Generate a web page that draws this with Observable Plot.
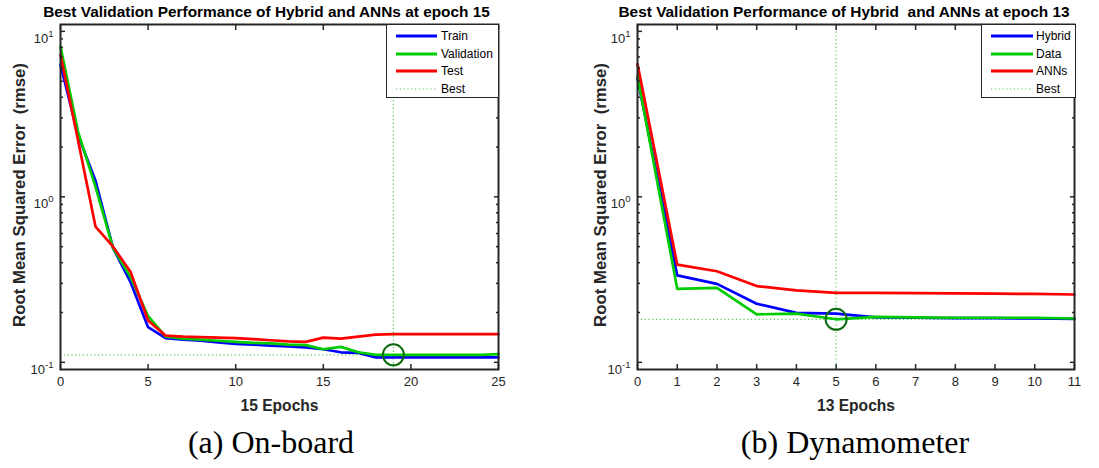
<!DOCTYPE html>
<html>
<head>
<meta charset="utf-8">
<script src="https://cdn.jsdelivr.net/npm/d3@7"></script>
<script src="https://cdn.jsdelivr.net/npm/@observablehq/plot@0.6"></script>
<style>
  body { margin: 0; background: #fff; }
  #wrap { position: relative; width: 1099px; height: 468px; overflow: hidden; background: #fff;
          font-family: "Liberation Sans", Arial, sans-serif; }
  .panel { position: absolute; top: 0; }
  .legend { position: absolute; top: 24px; border: 1px solid #262626; background: #fff; box-sizing: border-box;
            font-family: "Liberation Sans", Arial, sans-serif; font-size: 12px; color: #000; }
  .legend .row { position: absolute; left: 0; height: 16px; display: flex; align-items: center; white-space: nowrap; }
  .legend svg { display: block; }
  .caption { position: absolute; top: 422px; width: 400px; text-align: center;
             font-family: "Liberation Serif", "Times New Roman", serif; font-size: 32px; line-height: 40px; color: #000; }
</style>
</head>
<body>
<div id="wrap"></div>
<script>
// ---------- data: panel (a) On-board ----------
const epochsA = [0,1,2,3,4,5,6,7,8,9,10,11,12,13,14,15,16,17,18,19,20,21,22,23,24,25];
const trainA = [6.3,2.36,1.25,0.49,0.305,0.163,0.140,0.137,0.135,0.132,0.129,0.128,0.126,0.125,0.123,0.120,0.115,0.114,0.107,0.107,0.107,0.107,0.107,0.107,0.107,0.107];
const validA = [8.1,2.48,1.15,0.49,0.327,0.190,0.143,0.139,0.137,0.135,0.133,0.131,0.130,0.128,0.127,0.120,0.124,0.115,0.111,0.111,0.111,0.111,0.111,0.111,0.111,0.112];
const testA  = [7.2,2.2,0.66,0.50,0.351,0.179,0.145,0.143,0.142,0.141,0.140,0.138,0.136,0.134,0.133,0.141,0.139,0.143,0.147,0.148,0.148,0.148,0.148,0.148,0.148,0.148];
const namesA = ["Train", "Validation", "Test"];
const bestEpochA = 19, bestValueA = 0.111;
const xTicksA = [0,5,10,15,20,25];

// ---------- data: panel (b) Dynamometer ----------
const epochsB = [0,1,2,3,4,5,6,7,8,9,10,11];
const hybridB = [5.2,0.335,0.298,0.226,0.199,0.197,0.187,0.186,0.185,0.185,0.184,0.183];
const dataB   = [5.4,0.278,0.282,0.195,0.197,0.182,0.188,0.187,0.186,0.186,0.186,0.184];
const annB    = [6.34,0.389,0.355,0.289,0.272,0.263,0.263,0.262,0.261,0.260,0.259,0.257];
const namesB = ["Hybrid", "Data", "ANNs"];
const bestEpochB = 5, bestValueB = 0.182;
const xTicksB = [0,1,2,3,4,5,6,7,8,9,10,11];

const yMajor = [0.1, 1, 10];
const yMinor = [0.2,0.3,0.4,0.5,0.6,0.7,0.8,0.9,2,3,4,5,6,7,8,9];
const yDomain = [0.0905, 11];

const seriesColors = ["#0000ff", "#00cc00", "#ff0000"];
const bestColor = "#55c855";
const circleColor = "#0b6b0b";
const axisColor = "#262626";

const wrap = document.getElementById("wrap");

function makePanel(cfg) {
  const table = [];
  cfg.series.forEach((vals, si) => {
    vals.forEach((v, i) => table.push({epoch: cfg.epochs[i], value: v, series: cfg.names[si]}));
  });
  const xDomain = [cfg.epochs[0], cfg.epochs[cfg.epochs.length - 1]];
  const plot = Plot.plot({
    width: cfg.width,
    height: 420,
    marginLeft: cfg.marginLeft,
    marginRight: cfg.marginRight,
    marginTop: 24,
    marginBottom: 51,
    style: {fontFamily: '"Liberation Sans", Arial, sans-serif', fontSize: "13px", color: axisColor, background: "transparent", overflow: "visible"},
    x: {domain: xDomain, label: null},
    y: {type: "log", domain: yDomain, label: null},
    color: {domain: cfg.names, range: seriesColors},
    marks: [
      Plot.ruleY([cfg.bestValue], {stroke: bestColor, strokeWidth: 1.2, strokeDasharray: "1.2,2.6"}),
      Plot.ruleX([cfg.bestEpoch], {stroke: bestColor, strokeWidth: 1.2, strokeDasharray: "1.2,2.6"}),
      Plot.line(table, {x: "epoch", y: "value", z: "series", stroke: "series", strokeWidth: 2.7, strokeLinejoin: "round"}),
      Plot.dot([{epoch: cfg.bestEpoch, value: cfg.bestValue}], {x: "epoch", y: "value", r: 10.5, stroke: circleColor, strokeWidth: 2, fill: "none"}),
      Plot.frame({stroke: axisColor, strokeWidth: 2}),
      // inward tick marks, all four sides
      Plot.axisX(cfg.xTicks, {anchor: "bottom", tickSize: -5, fill: "none", stroke: axisColor, strokeWidth: 1.5, label: null}),
      Plot.axisX(cfg.xTicks, {anchor: "top", tickSize: -5, fill: "none", stroke: axisColor, strokeWidth: 1.5, label: null}),
      Plot.axisY(yMajor, {anchor: "left", tickSize: -5, fill: "none", stroke: axisColor, strokeWidth: 1.5, label: null}),
      Plot.axisY(yMajor, {anchor: "right", tickSize: -5, fill: "none", stroke: axisColor, strokeWidth: 1.5, label: null}),
      Plot.axisY(yMinor, {anchor: "left", tickSize: -3, fill: "none", stroke: axisColor, strokeWidth: 1.5, label: null}),
      Plot.axisY(yMinor, {anchor: "right", tickSize: -3, fill: "none", stroke: axisColor, strokeWidth: 1.5, label: null}),
      // tick labels
      Plot.axisX(cfg.xTicks, {anchor: "bottom", tickSize: 0, tickPadding: 7, fontSize: 13, fill: axisColor, label: null, tickFormat: d => String(d)}),
      Plot.axisY(yMajor, {anchor: "left", tickSize: 0, tickPadding: 7, fontSize: 13, fill: axisColor, label: null,
                          tickFormat: d => String(Math.round(Math.log10(d)))}),
      // titles and axis labels
      Plot.text([cfg.title], {frameAnchor: "top", dx: cfg.titleShift, dy: -12, fontWeight: "bold", fontSize: 15.4, fill: "#000", lineAnchor: "middle", textAnchor: "middle"}),
      Plot.text([cfg.xlabel], {frameAnchor: "bottom", dy: 36, fontWeight: "bold", fontSize: 15.6, fill: "#262626", lineAnchor: "middle", textAnchor: "middle"}),
      Plot.text([cfg.ylabel], {frameAnchor: "left", dx: -cfg.ylabelOffset, dy: -2, rotate: -90, fontWeight: "bold", fontSize: 16.8, fill: "#262626", lineAnchor: "middle", textAnchor: "middle"})
    ]
  });
  // superscript exponents on y tick labels
  plot.querySelectorAll('g[aria-label="y-axis tick label"] text').forEach(t => {
    const e = t.textContent;
    t.textContent = "10";
    t.setAttribute("dy", "0.55em");
    const ts = document.createElementNS("http://www.w3.org/2000/svg", "tspan");
    ts.setAttribute("dy", "-0.62em");
    ts.setAttribute("font-size", "9.5");
    ts.textContent = e;
    t.appendChild(ts);
  });
  plot.classList.add("panel");
  plot.style.left = cfg.left + "px";
  wrap.appendChild(plot);

  // legend
  const lg = document.createElement("div");
  lg.className = "legend";
  lg.style.left = cfg.legend.left + "px";
  lg.style.width = cfg.legend.width + "px";
  lg.style.height = "74px";
  const entries = cfg.names.map((n, i) => ({name: n, color: seriesColors[i], dotted: false})).concat([{name: "Best", color: bestColor, dotted: true}]);
  entries.forEach((en, i) => {
    const row = document.createElement("div");
    row.className = "row";
    row.style.top = (3 + i * 17.5) + "px";
    row.style.left = cfg.legend.lineLeft + "px";
    const sw = cfg.legend.lineWidth;
    row.innerHTML = `<svg width="${sw}" height="16"><line x1="0" x2="${sw}" y1="8" y2="8" stroke="${en.color}" stroke-width="${en.dotted ? 1.2 : 3}" ${en.dotted ? 'stroke-dasharray="1.2,2.6"' : ''}/></svg><span style="margin-left:${cfg.legend.gap}px">${en.name}</span>`;
    lg.appendChild(row);
  });
  wrap.appendChild(lg);

  const cap = document.createElement("div");
  cap.className = "caption";
  cap.style.left = (cfg.captionCenter - 200) + "px";
  cap.textContent = cfg.caption;
  wrap.appendChild(cap);
}

makePanel({
  left: 0, width: 550, marginLeft: 60, marginRight: 52,
  epochs: epochsA, series: [trainA, validA, testA], names: namesA,
  bestEpoch: bestEpochA, bestValue: bestValueA, xTicks: xTicksA,
  title: "Best Validation Performance of Hybrid and ANNs at epoch 15", titleShift: -13,
  xlabel: "15 Epochs", ylabel: "Root Mean Squared Error  (rmse)", ylabelOffset: 41,
  legend: {left: 386, width: 113, lineLeft: 9, lineWidth: 41, gap: 4},
  caption: "(a) On-board", captionCenter: 271
});

makePanel({
  left: 550, width: 549, marginLeft: 87, marginRight: 25,
  epochs: epochsB, series: [hybridB, dataB, annB], names: namesB,
  bestEpoch: bestEpochB, bestValue: bestValueB, xTicks: xTicksB,
  title: "Best Validation Performance of Hybrid  and ANNs at epoch 13", titleShift: -12,
  xlabel: "13 Epochs", ylabel: "Root Mean Squared Error  (rmse)", ylabelOffset: 37,
  legend: {left: 981, width: 95, lineLeft: 9, lineWidth: 42, gap: 3},
  caption: "(b) Dynamometer", captionCenter: 855
});
</script>
</body>
</html>
